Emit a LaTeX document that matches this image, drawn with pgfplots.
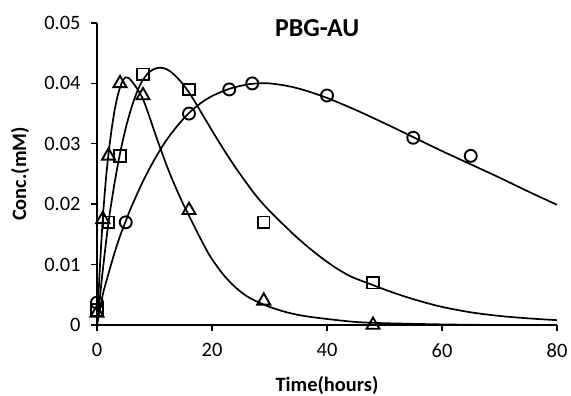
\documentclass[border=0pt]{standalone}
\usepackage{fontspec}
\setmainfont{Carlito}
\usepackage{pgfplots}
\pgfplotsset{compat=1.18}
\begin{document}
\begin{tikzpicture}
\begin{axis}[
  at={(0,0)}, anchor=south west,
  scale only axis, width=460bp, height=302bp,
  xmin=0, xmax=80, ymin=0, ymax=0.05,
  axis x line*=bottom, axis y line*=left,
  axis line style={line width=1.4bp},
  xtick={0,20,40,60,80},
  ytick={0,0.01,0.02,0.03,0.04,0.05},
  tick align=outside, major tick length=6bp,
  tick style={line width=1.4bp, black},
  /pgf/number format/assume math mode=true,
  yticklabel style={/pgf/number format/fixed, /pgf/number format/precision=2, font=\fontsize{20.5}{23}\selectfont, xshift=-7bp},
  xticklabel style={font=\fontsize{20.5}{23}\selectfont, yshift=-9bp},
  scaled y ticks=false,
  xlabel={\textbf{Time(hours)}},
  ylabel={\textbf{Conc.(mM)}},
  xlabel style={at={(axis description cs:0.5,-0.199)}, anchor=center, font=\fontsize{20.5}{23}\selectfont},
  ylabel style={at={(axis description cs:-0.167,0.5)}, anchor=center, font=\fontsize{20.5}{23}\selectfont},
  clip=false,
]
% markers
\addplot[only marks, mark=triangle, mark size=7.5bp, mark options={line width=1.9bp, black}]
coordinates {(0,0.002) (1,0.0175) (2,0.028) (4,0.040) (8,0.038) (16,0.019) (29,0.004) (48,0.0)};
\addplot[only marks, mark=square, mark size=5.8bp, mark options={line width=1.9bp, black}]
coordinates {(0,0.0025) (2,0.017) (4,0.028) (8,0.0415) (16,0.039) (29,0.017) (48,0.007)};
\addplot[only marks, mark=o, mark size=6bp, mark options={line width=1.9bp, black}]
coordinates {(0,0.0037) (5,0.017) (16,0.035) (23,0.039) (27,0.040) (40,0.038) (55,0.031) (65,0.028)};
% fitted curves
\addplot[black, line width=1.7bp, smooth, no marks] coordinates {
(0,0) (0.5,0.0095) (1,0.0175) (1.5,0.0236) (2,0.0283) (2.5,0.0321) (3,0.0352) (3.5,0.0376)
(4,0.0393) (4.5,0.0405) (5,0.0410) (5.5,0.0409) (6,0.0404) (7,0.0391) (8,0.0374) (9,0.0348)
(10,0.0320) (11,0.0293) (12,0.0267) (13,0.0243) (14,0.0221) (15,0.0200) (16,0.0181) (17,0.0162)
(18,0.0143) (19,0.0125) (20,0.0109) (22,0.0083) (24,0.0063) (26,0.0048) (28,0.0038) (30,0.0030)
(33,0.0021) (36,0.0015) (40,0.0010) (45,0.0005) (50,0.0003) (60,0.0001) (70,0.0) (80,0.0)};
\addplot[black, line width=1.7bp, smooth, no marks] coordinates {
(0,0) (1,0.0090) (2,0.0170) (3,0.0232) (4,0.0284) (5,0.0326) (6,0.0360) (7,0.0387) (8,0.0406)
(9,0.0418) (10,0.0424) (11,0.0426) (12,0.0424) (13,0.0418) (14,0.0409) (15,0.0398) (16,0.0385)
(17,0.0370) (18,0.0354) (20,0.0322) (22,0.0291) (24,0.0262) (26,0.0235) (28,0.0210) (30,0.0189)
(32,0.0170) (35,0.0143) (38,0.0119) (41,0.0098) (44,0.0081) (48,0.0066) (52,0.0052) (56,0.0040)
(60,0.0030) (65,0.0021) (70,0.0015) (75,0.0011) (80,0.0008)};
\addplot[black, line width=1.7bp, smooth, no marks] coordinates {
(0,0) (1,0.0050) (2,0.0085) (3,0.0118) (4,0.0147) (5,0.0172) (6,0.0196) (8,0.0238) (10,0.0274)
(12,0.0305) (14,0.0330) (16,0.0351) (18,0.0367) (20,0.0379) (23,0.0391) (26,0.0398) (28,0.0400)
(30,0.0400) (33,0.0396) (36,0.0389) (40,0.0376) (45,0.0356) (50,0.0334) (55,0.0311) (60,0.0288)
(65,0.0266) (70,0.0244) (75,0.0221) (80,0.0199)};
\node[font=\fontsize{26}{29}\selectfont\bfseries] at (axis cs:38.3,0.0491) {PBG-AU};
\end{axis}
\pgfresetboundingbox
\path[use as bounding box] (-97bp,-71bp) rectangle (474bp,325bp);
\end{tikzpicture}
\end{document}
